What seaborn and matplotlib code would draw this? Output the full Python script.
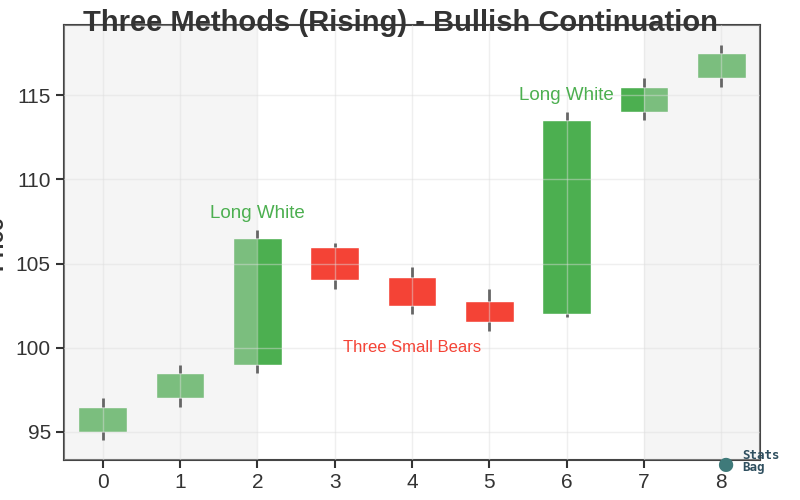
import numpy as np
import pandas as pd
import matplotlib
matplotlib.use("Agg")
import matplotlib.pyplot as plt
import seaborn as sns

# candle data
days = [0, 1, 2, 3, 4, 5, 6, 7, 8]
opens = [95.0, 97.0, 99.0, 106.0, 104.2, 102.8, 102.0, 114.0, 116.0]
closes = [96.5, 98.5, 106.5, 104.0, 102.5, 101.5, 113.5, 115.5, 117.5]
highs = [97.0, 99.0, 107.0, 106.2, 104.8, 103.5, 114.0, 116.0, 118.0]
lows = [94.5, 96.5, 98.5, 103.5, 102.0, 101.0, 101.8, 113.5, 115.5]

labels = ["Long White", "Three Small Bears", "Long White"]
label_x = [2, 4, 6]
label_y = [108.0, 100.0, 115.0]

df = pd.DataFrame({"day": days, "open": opens, "close": closes,
                   "high": highs, "low": lows})
df["bull"] = df["close"] >= df["open"]
df["bottom"] = df[["open", "close"]].min(axis=1)
df["top"] = df[["open", "close"]].max(axis=1)
df["height"] = df["top"] - df["bottom"]

GREEN = "#4caf50"
RED = "#f44336"

sns.set_style("ticks", {"axes.grid": True})
plt.rcParams["font.family"] = ["Liberation Sans", "DejaVu Sans"]

fig, ax = plt.subplots(figsize=(8, 5), dpi=100)
fig.subplots_adjust(left=0.08, right=0.95, top=0.95, bottom=0.08)

# bodies
colors = [GREEN if b else RED for b in df["bull"]]
ax.bar(df["day"], df["height"], bottom=df["bottom"], width=0.63,
       color=colors, zorder=2)

# shaded zones around the pattern
ax.axvspan(-0.5, 2, color="#e0e0e0", alpha=0.32, linewidth=0, zorder=3)
ax.axvspan(7, 8.5, color="#e0e0e0", alpha=0.32, linewidth=0, zorder=3)

ax.grid(True, color="#dddddd", alpha=0.45, linewidth=1)
ax.set_axisbelow(False)
for gl in ax.get_xgridlines() + ax.get_ygridlines():
    gl.set_zorder(4)

# wicks (outside the body)
ax.vlines(df["day"], df["low"], df["bottom"], color="#666666", linewidth=2, zorder=5)
ax.vlines(df["day"], df["top"], df["high"], color="#666666", linewidth=2, zorder=5)

ax.text(label_x[0], label_y[0], labels[0], color=GREEN, fontsize=13.5,
        ha="center", va="center", zorder=6)
ax.text(label_x[1], label_y[1], labels[1], color=RED, fontsize=12,
        ha="center", va="center", zorder=6)
ax.text(label_x[2], label_y[2], labels[2], color=GREEN, fontsize=13.5,
        ha="center", va="center", zorder=6)

ax.set_xlim(-0.5, 8.5)
ax.set_xticks(days)
ax.set_yticks([95, 100, 105, 110, 115])

ax.tick_params(axis="both", labelsize=15, colors="#333333", length=6, width=1.5)
for s in ax.spines.values():
    s.set_color("#444444")
    s.set_linewidth(1.5)

ax.set_ylabel("Price", fontsize=16, fontweight="bold", color="#333333")
ax.yaxis.set_label_coords(-0.081, 0.5)

ax.set_title("Three Methods (Rising) - Bullish Continuation", fontsize=21,
             fontweight="bold", color="#333333", x=0.483, y=0.986, pad=0)

# watermark
fig.text(0.928, 0.077, "Stats\nBag", fontsize=9, fontweight="bold",
         color="#2f4f5f", family="DejaVu Sans Mono", ha="left", va="center",
         linespacing=0.85)
fig.text(0.906, 0.068, "\u25CF", fontsize=24, color="#3f7a7a", ha="center", va="center")

plt.savefig("out.png", dpi=100)
